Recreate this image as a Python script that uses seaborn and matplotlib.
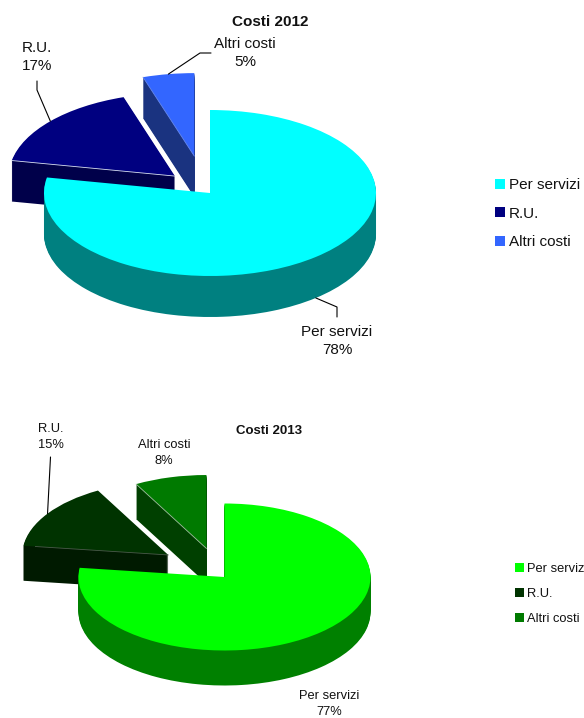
import numpy as np
import matplotlib.pyplot as plt
from matplotlib.patches import Patch
import seaborn as sns

W, H = 584, 718

categories = ['Per servizi', 'R.U.', 'Altri costi']

values_2012 = [78, 17, 5]
explode_2012 = [0, 0.29, 0.45]
shift_2012 = [(0, 0), (0.006, 0.012), (-0.024, 0)]
top_2012 = ['#00FFFF', '#000080', '#3366FF']
side_2012 = ['#008080', '#00004A', '#1A3380']
seam_2012 = [None, '#D8E0F0', '#6688EE']

values_2013 = [77, 15, 8]
explode_2013 = [0, 0.48, 0.40]
shift_2013 = [(0, 0), (0.012, 0.03), (-0.024, 0)]
top_2013 = ['#00FF00', '#003300', '#007A00']
side_2013 = ['#008000', '#001A00', '#004000']
seam_2013 = [None, '#4A5A4A', '#A0C0A0']

sns.set_theme(style='white')
plt.rcParams['font.family'] = ['Liberation Sans', 'DejaVu Sans']
plt.rcParams['text.color'] = '#111111'

fig = plt.figure(figsize=(W / 100, H / 100), dpi=100)
overlay = fig.add_axes([0, 0, 1, 1], zorder=5)
overlay.set_xlim(0, W)
overlay.set_ylim(H, 0)
overlay.axis('off')


def draw_slice(ax, values, explode, k, color, x0, y0):
    wedges, _ = ax.pie(values, explode=explode, startangle=90, counterclock=False,
                       center=(x0, y0), colors=[color] * len(values), radius=1,
                       wedgeprops={'linewidth': 0})
    for i, w in enumerate(wedges):
        w.set_visible(i == k)


def slice_point(values, explode, shift, k, frac, r=1.0):
    # point on slice k, frac is how far round the slice we are
    v = np.array(values, dtype=float)
    start = v[:k].sum() / v.sum()
    size = v[k] / v.sum()
    mid = 2 * np.pi * (start + size / 2)
    ang = 2 * np.pi * (start + size * frac)
    ox = explode[k] * np.sin(mid) + shift[k][0]
    oy = explode[k] * np.cos(mid) + shift[k][1]
    return ox + r * np.sin(ang), oy + r * np.cos(ang), ox, oy


def draw_pie(values, explode, shift, top, side, seam, cx, cy, rx, ry, depth):
    sx, sy = 1.3, 1.65
    ax = fig.add_axes([(cx - sx * rx) / W, 1 - (cy + sy * ry) / H,
                       2 * sx * rx / W, 2 * sy * ry / H])
    d = depth / ry
    # back slices first, the big one goes over them
    for k in [2, 1, 0]:
        for dy in np.linspace(d, 0, int(depth) + 1)[:-1]:
            draw_slice(ax, values, explode, k, side[k], shift[k][0], shift[k][1] - dy)
        draw_slice(ax, values, explode, k, top[k], shift[k][0], shift[k][1])
        if seam[k]:
            px, py, ox, oy = slice_point(values, explode, shift, k, 0)
            ax.plot([ox, px], [oy, py], color=seam[k], lw=0.6)
    ax.set_aspect('auto')
    ax.set_xlim(-sx, sx)
    ax.set_ylim(-sy, sy)
    ax.axis('off')


def leader(values, explode, shift, k, cx, cy, rx, ry, drop, elbow):
    px, py, _, _ = slice_point(values, explode, shift, k, 0.5)
    xs = [cx + px * rx] + [e[0] for e in elbow]
    ys = [cy - py * ry + drop] + [e[1] for e in elbow]
    overlay.plot(xs, ys, color='black', lw=0.8)


def legend(top, x, y, size, spacing, square):
    handles = [Patch(facecolor=c, edgecolor='none') for c in top]
    fig.legend(handles, categories, loc='center left', bbox_to_anchor=(x / W, 1 - y / H),
               frameon=False, fontsize=size, handlelength=square, handleheight=square,
               handletextpad=0.24, labelspacing=spacing, borderpad=0, borderaxespad=0)


# 2012
draw_pie(values_2012, explode_2012, shift_2012, top_2012, side_2012, seam_2012,
         210, 193, 166, 83, 41)
leader(values_2012, explode_2012, shift_2012, 0, 210, 193, 166, 83, 41, [(337, 307), (337, 317)])
leader(values_2012, explode_2012, shift_2012, 1, 210, 193, 166, 83, 0, [(37, 90), (37, 81)])
leader(values_2012, explode_2012, shift_2012, 2, 210, 193, 166, 83, 0, [(200, 53), (211, 53)])
overlay.text(270, 22.5, 'Costi 2012', fontsize=11, fontweight='bold', ha='center', va='center')
overlay.text(337, 341, 'Per servizi\n78%', fontsize=11, ha='center', va='center', linespacing=1.42)
overlay.text(37, 57, 'R.U.\n17%', fontsize=11, ha='center', va='center', linespacing=1.42)
overlay.text(245, 53, 'Altri costi\n5%', fontsize=11, ha='center', va='center', linespacing=1.42)
legend(top_2012, 495, 213.5, 11, 0.95, 0.65)

# 2013
draw_pie(values_2013, explode_2013, shift_2013, top_2013, side_2013, seam_2013,
         224.5, 577, 146, 73.5, 35)
leader(values_2013, explode_2013, shift_2013, 1, 224.5, 577, 146, 73.5, 0, [(50.5, 457)])
overlay.text(269, 430.5, 'Costi 2013', fontsize=9.5, fontweight='bold', ha='center', va='center')
overlay.text(329, 704, 'Per servizi\n77%', fontsize=9.3, ha='center', va='center', linespacing=1.4)
overlay.text(51, 437, 'R.U.\n15%', fontsize=9.3, ha='center', va='center', linespacing=1.4)
overlay.text(164, 453, 'Altri costi\n8%', fontsize=9.3, ha='center', va='center', linespacing=1.4)
legend(top_2013, 515, 594, 9.3, 1.0, 0.68)

fig.savefig('out.png', dpi=100)
